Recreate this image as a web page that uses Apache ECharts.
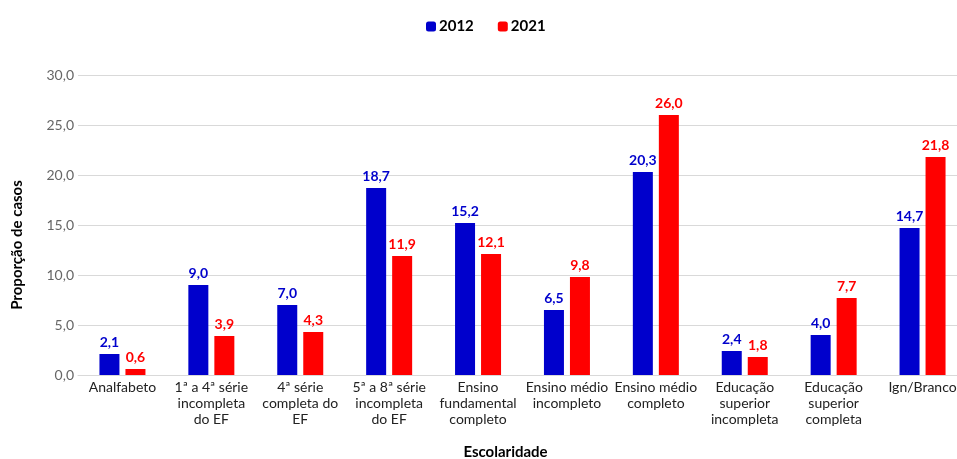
<!DOCTYPE html>
<html><head><meta charset="utf-8">
<script src="https://cdn.jsdelivr.net/npm/echarts@6/dist/echarts.min.js"></script>
<style>html,body{margin:0;padding:0;background:#fff}#c{width:957px;height:459px}</style>
</head><body><div id="c"></div>
<script>
var categories = ["Analfabeto", "1ª a 4ª série\nincompleta\ndo EF", "4ª série\ncompleta do\nEF", "5ª a 8ª série\nincompleta\ndo EF", "Ensino\nfundamental\ncompleto", "Ensino médio\nincompleto", "Ensino médio\ncompleto", "Educação\nsuperior\nincompleta", "Educação\nsuperior\ncompleta", "Ign/Branco"];
var values2012 = [2.1, 9.0, 7.0, 18.7, 15.2, 6.5, 20.3, 2.4, 4.0, 14.7];
var values2021 = [0.6, 3.9, 4.3, 11.9, 12.1, 9.8, 26.0, 1.8, 7.7, 21.8];
var yTicks = [0, 5, 10, 15, 20, 25, 30];

var F = 'Lato, "Noto Sans", sans-serif';
function fmt(v){ return Number(v).toFixed(1).replace('.', ','); }
var chart = echarts.init(document.getElementById('c'));
chart.setOption({
  animation: false,
  textStyle: {fontFamily: F},
  legend: {
    top: 14, left: 421, itemWidth: 10, itemHeight: 10, itemGap: 24,
    textStyle: {fontFamily: F, fontWeight: 'bold', fontSize: 15, color: '#000', padding: [0,0,0,-2]},
    data: ['2012', '2021']
  },
  grid: {left: 78, top: 75, width: 889, height: 300, containLabel: false, outerBoundsMode: 'none'},
  xAxis: {
    type: 'category', data: categories,
    axisLine: {lineStyle: {color: '#d9d9d9', width: 1}},
    axisTick: {show: false},
    axisLabel: {interval: 0, fontFamily: F, fontSize: 14, color: '#222', lineHeight: 16, margin: 4},
    name: 'Escolaridade', nameLocation: 'middle', nameGap: 70,
    nameTextStyle: {fontFamily: F, fontWeight: 'bold', fontSize: 15, color: '#000', padding: [0, 34, 0, 0]}
  },
  yAxis: {
    type: 'value', min: yTicks[0], max: yTicks[yTicks.length-1], interval: 5,
    axisLine: {show: false}, axisTick: {show: false},
    splitLine: {lineStyle: {color: '#d9d9d9', width: 1}},
    axisLabel: {fontFamily: F, fontSize: 14, color: '#666', margin: 4, formatter: function(v){return fmt(v);}},
    name: 'Proporção de casos', nameLocation: 'middle', nameGap: 53,
    nameTextStyle: {fontFamily: F, fontWeight: 'bold', fontSize: 15, color: '#000', padding: [0, 40, 0, 0]}
  },
  series: [
    {name: '2012', type: 'bar', data: values2012, barWidth: 20, barGap: '30%',
     itemStyle: {color: '#0000CC'},
     label: {show: true, position: 'top', distance: 5, fontFamily: F, fontWeight: 'bold', fontSize: 14, color: '#0000CC', formatter: function(p){return fmt(p.value);}}},
    {name: '2021', type: 'bar', data: values2021, barWidth: 20,
     itemStyle: {color: '#FF0000'},
     label: {show: true, position: 'top', distance: 5, fontFamily: F, fontWeight: 'bold', fontSize: 14, color: '#FF0000', formatter: function(p){return fmt(p.value);}}}
  ]
});
</script></body></html>
